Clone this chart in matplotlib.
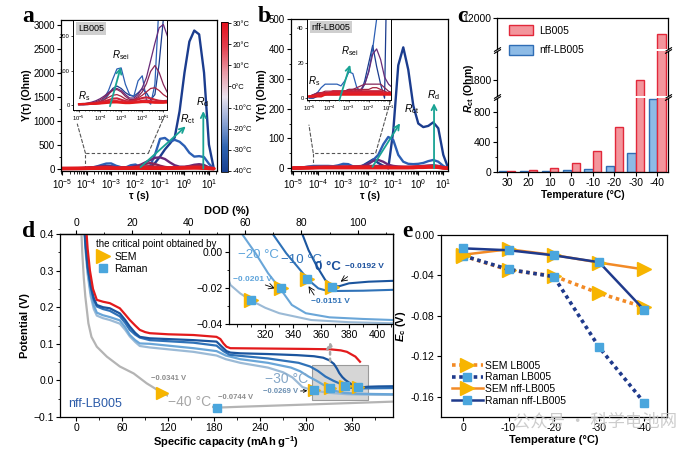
import matplotlib
matplotlib.use("Agg")
import matplotlib.pyplot as plt
import numpy as np
from matplotlib.cm import ScalarMappable
from matplotlib.colors import LinearSegmentedColormap, Normalize
from matplotlib.lines import Line2D
from matplotlib.patches import ConnectionPatch, Patch, Rectangle
from matplotlib.ticker import FuncFormatter, LogLocator, MultipleLocator, NullFormatter

plt.rcParams["font.family"] = ["Liberation Sans", "DejaVu Sans"]
plt.rcParams["mathtext.fontset"] = "custom"
plt.rcParams["mathtext.rm"] = "Liberation Sans"
plt.rcParams["mathtext.it"] = "Liberation Sans:italic"
plt.rcParams["mathtext.bf"] = "Liberation Sans:bold"
plt.rcParams["mathtext.bfit"] = "Liberation Sans:italic:bold"
plt.rcParams["axes.linewidth"] = 0.9

W, H = 700, 449

# ---------------- data: DRT (panels a, b) ----------------
LOG_TAU = [-5.0, -4.8, -4.6, -4.4, -4.2, -4.0, -3.8, -3.6, -3.4, -3.2,
           -3.0, -2.8, -2.6, -2.4, -2.2, -2.0, -1.8, -1.6, -1.4, -1.2,
           -1.0, -0.8, -0.6, -0.4, -0.2, 0.0, 0.2, 0.4, 0.6, 0.8, 1.0, 1.2]
DRT_TEMPS = [30, 20, 10, 0, -10, -20, -30, -40]
DRT_COLORS = ["#e41a1c", "#dc1f2e", "#c92238", "#a62440",
              "#862659", "#682a78", "#2c5fb4", "#1b3c8e"]

LB005_30 = [2, 2, 2, 3, 3, 4, 5, 6, 7, 7, 6, 5, 5, 6, 7, 8, 8, 7, 6, 6,
            6, 7, 8, 9, 10, 11, 12, 13, 12, 8, 3, 0]
LB005_20 = [2, 2, 3, 3, 4, 5, 7, 9, 11, 11, 9, 7, 7, 8, 10, 12, 13, 11, 9, 8,
            8, 9, 10, 12, 14, 16, 18, 20, 18, 12, 4, 0]
LB005_10 = [2, 3, 3, 4, 5, 7, 10, 14, 18, 19, 15, 11, 10, 12, 16, 20, 22, 19, 15, 12,
            11, 12, 14, 17, 20, 24, 28, 30, 27, 18, 6, 0]
LB005_0 = [2, 3, 4, 5, 7, 10, 15, 22, 28, 30, 25, 17, 13, 14, 20, 28, 38, 48, 50, 42,
           30, 22, 18, 18, 20, 25, 32, 40, 42, 30, 10, 0]
LB005_M10 = [2, 3, 4, 6, 9, 14, 22, 32, 42, 45, 38, 25, 16, 16, 24, 38, 62, 98, 115, 95,
             60, 35, 22, 18, 20, 28, 42, 60, 70, 55, 18, 0]
LB005_M20 = [2, 3, 5, 8, 12, 18, 26, 36, 45, 48, 42, 30, 20, 20, 30, 50, 80, 130, 180, 225,
             235, 200, 130, 70, 40, 38, 55, 80, 92, 75, 25, 0]
LB005_M30 = [1, 2, 3, 4, 5, 8, 20, 42, 75, 105, 108, 60, 30, 25, 70, 85, 15, 2, 60, 300,
             620, 640, 560, 600, 560, 470, 330, 250, 260, 240, 100, 0]
LB005_M40 = [0, 0, 1, 2, 4, 8, 15, 30, 48, 55, 48, 36, 28, 25, 35, 47, 35, 15, 30, 120,
             250, 400, 520, 650, 1200, 2000, 2650, 2880, 2800, 2000, 500, 0]

NFF_30 = [1, 1, 1, 1, 2, 2, 2, 2, 2, 2, 2, 2, 2, 2, 2, 2, 2, 2, 2, 2,
          2, 2, 2, 2, 2, 3, 3, 4, 4, 3, 1, 0]
NFF_20 = [1, 1, 2, 2, 2, 3, 3, 3, 3, 3, 3, 3, 3, 3, 3, 3, 3, 3, 3, 3,
          3, 3, 3, 3, 3, 4, 4, 5, 5, 4, 2, 0]
NFF_10 = [1, 1, 2, 3, 3, 3, 4, 4, 4, 4, 4, 4, 4, 4, 4, 4, 4, 4, 4, 3,
          3, 3, 3, 3, 4, 4, 5, 6, 6, 5, 2, 0]
NFF_0 = [1, 2, 2, 3, 4, 4, 4, 4, 4, 4, 5, 5, 5, 5, 5, 5, 6, 6, 5, 4,
         3, 3, 3, 3, 4, 5, 6, 7, 7, 6, 2, 0]
NFF_M10 = [1, 2, 3, 3, 3, 3, 3, 3, 3, 4, 4, 5, 6, 7, 8, 8, 8, 8, 8, 6,
           4, 3, 3, 3, 4, 5, 7, 8, 9, 7, 3, 0]
NFF_M20 = [1, 2, 3, 3, 3, 3, 3, 3, 3, 4, 5, 5, 4, 5, 8, 15, 25, 28, 22, 12,
           8, 6, 5, 5, 5, 6, 8, 9, 10, 8, 3, 0]
NFF_M30 = [0, 1, 3, 6, 8, 8, 8, 8, 7, 10, 15, 14, 6, 4, 8, 15, 28, 45, 80, 105,
           95, 45, 22, 15, 14, 15, 18, 24, 28, 22, 8, 0]
NFF_M40 = [0, 0, 1, 2, 2, 2, 2, 2, 3, 4, 5, 4, 3, 3, 10, 20, 30, 18, 8, 0,
           125, 345, 405, 330, 210, 150, 138, 142, 154, 134, 45, 0]

# ---------------- data: R_ct bars (panel c) ----------------
RCT_TEMPS = ["30", "20", "10", "0", "-10", "-20", "-30", "-40"]
RCT_LB005 = [10, 22, 44, 112, 282, 600, 1790, 11000]
RCT_NFF = [6, 7, 7, 20, 38, 80, 255, 965]

# ---------------- data: discharge curves (panel d) ----------------
RED_CAP = [12, 15, 18, 22, 27, 35, 44, 57, 64, 70, 77, 83, 90, 96, 120, 153, 183, 188,
           192, 196, 201, 250, 300, 331, 345, 353, 358, 364, 370]
RED_POT = [0.45, 0.36, 0.30, 0.25, 0.22, 0.215, 0.211, 0.197, 0.18, 0.165, 0.15, 0.138,
           0.132, 0.129, 0.126, 0.124, 0.119, 0.113, 0.101, 0.092, 0.088, 0.087, 0.086,
           0.085, 0.082, 0.078, 0.072, 0.065, 0.051]
C0_CAP = [10, 12, 15, 19, 23, 27, 35, 44, 57, 64, 70, 77, 83, 96, 153, 183, 190, 196,
          201, 214, 250, 288, 310, 322, 330, 336, 340, 343, 347, 351, 357, 363, 368,
          373, 380, 394, 412]
C0_POT = [0.45, 0.38, 0.31, 0.26, 0.225, 0.206, 0.2, 0.197, 0.183, 0.165, 0.147, 0.13,
          0.119, 0.115, 0.110, 0.106, 0.092, 0.08, 0.076, 0.074, 0.072, 0.069, 0.066,
          0.062, 0.055, 0.045, 0.032, 0.02, 0.009, 0.001, -0.008, -0.0156, -0.019,
          -0.019, -0.0174, -0.0165, -0.016]
CM10_CAP = [10, 12, 15, 19, 23, 27, 35, 44, 57, 64, 70, 77, 83, 96, 153, 183, 192, 200,
            214, 250, 290, 305, 315, 325, 335, 343, 351, 358, 365, 390, 412]
CM10_POT = [0.45, 0.38, 0.31, 0.255, 0.22, 0.202, 0.195, 0.19, 0.175, 0.157, 0.138,
            0.125, 0.117, 0.11, 0.103, 0.095, 0.08, 0.07, 0.067, 0.06, 0.048, 0.038,
            0.026, 0.0104, -0.0007, -0.0081, -0.0156, -0.0202, -0.0217, -0.0215, -0.021]
CM20_CAP = [10, 12, 15, 19, 23, 27, 35, 44, 57, 64, 70, 77, 83, 96, 153, 183, 195, 214,
            250, 280, 292, 303, 313, 322, 331, 339, 349, 366, 390, 412]
CM20_POT = [0.45, 0.37, 0.3, 0.24, 0.205, 0.185, 0.178, 0.173, 0.164, 0.145, 0.124,
            0.11, 0.101, 0.1, 0.088, 0.08, 0.068, 0.058, 0.048, 0.035, 0.025, 0.0104,
            -0.0007, -0.0118, -0.0207, -0.0294, -0.034, -0.0363, -0.0372, -0.0378]
CM30_CAP = [10, 12, 15, 19, 23, 27, 35, 44, 57, 64, 70, 77, 83, 96, 153, 183, 195, 214,
            250, 270, 282, 290, 295, 302, 310, 320, 330, 353, 380, 412]
CM30_POT = [0.45, 0.36, 0.29, 0.23, 0.195, 0.177, 0.17, 0.165, 0.155, 0.138, 0.12,
            0.105, 0.094, 0.09, 0.078, 0.068, 0.058, 0.048, 0.035, 0.022, 0.008, -0.008,
            -0.0183, -0.023, -0.027, -0.031, -0.034, -0.0378, -0.039, -0.0396]
CM40_CAP = [6, 8, 10, 12, 16, 20, 27, 40, 57, 75, 92, 112, 127, 150, 183, 214, 300, 413]
CM40_POT = [0.45, 0.35, 0.28, 0.229, 0.156, 0.119, 0.092, 0.065, 0.038, 0.019, -0.008,
            -0.034, -0.049, -0.063, -0.0744, -0.072, -0.066, -0.058]

SEM_CAP = [368, 350, 331, 310, 112]
SEM_POT = [-0.0192, -0.0151, -0.0201, -0.0269, -0.0341]
RAMAN_CAP = [368, 350, 331, 310, 183]
RAMAN_POT = [-0.0192, -0.0151, -0.0201, -0.0269, -0.0744]

# ---------------- data: critical potential (panel e) ----------------
EC_TEMPS = [0, -10, -20, -30, -40]
EC_TICKLABELS = ["0", "-10", "-20", "-30", "-40"]
EC_SEM_LB005 = [-0.0207, -0.0346, -0.0405, -0.0576, -0.0714]
EC_RAMAN_LB005 = [-0.0205, -0.0340, -0.0412, -0.111, -0.166]
EC_SEM_NFF = [-0.0195, -0.0141, -0.0198, -0.0273, -0.0341]
EC_RAMAN_NFF = [-0.0132, -0.0151, -0.0201, -0.0269, -0.0744]

TEAL = "#19a394"
YELLOW = "#f7b500"
SQ_BLUE = "#4aa6dd"
ORANGE = "#f28a26"
NAVY = "#1f3a8c"

fig = plt.figure(figsize=(W / 100, H / 100), dpi=100)


def px_axes(left, top, right, bottom):
    return fig.add_axes([left / W, 1 - bottom / H, (right - left) / W, (bottom - top) / H])


def style_ticks(ax, size=7):
    ax.tick_params(labelsize=size, width=0.8, length=3, pad=1.5)
    ax.tick_params(which="minor", width=0.6, length=1.8)


def draw_drt(ax, ins, curves, ylim, inset_ylim, xlim_main, xlim_ins):
    tau = 10 ** np.array(LOG_TAU)
    order = list(range(len(curves)))[::-1]  # cold first, red on top
    for i in order:
        lw = 2.4 if DRT_TEMPS[i] > 0 else 1.7
        ax.plot(tau, curves[i], color=DRT_COLORS[i], lw=lw, solid_capstyle="round")
        ins.plot(tau, curves[i], color=DRT_COLORS[i], lw=1.5 if DRT_TEMPS[i] > 0 else 0.9)
    ax.set_xscale("log")
    ax.set_xlim(*xlim_main)
    ax.set_ylim(*ylim)
    ax.xaxis.set_major_locator(LogLocator(base=10, numticks=12))
    ax.xaxis.set_minor_locator(LogLocator(base=10, subs=np.arange(2, 10), numticks=12))
    ax.xaxis.set_minor_formatter(NullFormatter())
    ax.set_xlabel("τ (s)", fontsize=7.5, fontweight="bold", labelpad=0)
    ax.set_ylabel("Υ(τ) (Ohm)", fontsize=7.5, fontweight="bold", labelpad=1)
    style_ticks(ax)

    ins.set_xscale("log")
    ins.set_xlim(*xlim_ins)
    ins.set_ylim(*inset_ylim)
    ins.xaxis.set_major_locator(LogLocator(base=10, numticks=12))
    ins.xaxis.set_minor_locator(LogLocator(base=10, subs=np.arange(2, 10), numticks=12))
    ins.xaxis.set_minor_formatter(NullFormatter())
    ins.tick_params(labelsize=4.2, width=0.5, length=1.5, pad=1)
    ins.tick_params(which="minor", width=0.4, length=1)
    for s in ins.spines.values():
        s.set_linewidth(0.7)


def dashed_link(ax, ins, x0, x1, top, ins_left, ins_right):
    ax.plot([x0, x0, x1], [0, top, top], ls=(0, (3, 2)), color="#555555", lw=0.8, zorder=1)
    for (x, xy_ins) in ((x0, ins_left), (x1, ins_right)):
        con = ConnectionPatch(xyA=(x, top), coordsA=ax.transData, xyB=xy_ins,
                              coordsB=ins.transAxes, ls=(0, (3, 2)), color="#555555", lw=0.8)
        fig.add_artist(con)


def teal_arrow(ax, start, end):
    ax.annotate("", xy=end, xytext=start,
                arrowprops=dict(arrowstyle="->", color=TEAL, lw=1.3, mutation_scale=9,
                                shrinkA=0, shrinkB=0), zorder=6)


# ---------------- panel a ----------------
ax_a = px_axes(61, 20, 217, 171)
ins_a = px_axes(73.3, 20, 166.7, 110)
lb_curves = [LB005_30, LB005_20, LB005_10, LB005_0, LB005_M10, LB005_M20, LB005_M30, LB005_M40]
draw_drt(ax_a, ins_a, lb_curves, (-50, 3100), (-15, 248),
         (10 ** -5.05, 10 ** 1.33), (10 ** -5.27, 10 ** -0.84))
ax_a.yaxis.set_major_locator(MultipleLocator(500))
ax_a.yaxis.set_minor_locator(MultipleLocator(250))
ins_a.set_yticks([0, 100, 200])
dashed_link(ax_a, ins_a, 10 ** -4.05, 10 ** -1.48, 320, (0.043, -0.156), (0.98, -0.056))
teal_arrow(ax_a, (10 ** -1.8, 30), (10 ** 0.05, 880))
teal_arrow(ax_a, (10 ** 0.77, 0), (10 ** 0.77, 1200))
ax_a.text(10 ** 0.12, 1030, r"$R_{\rm ct}$", fontsize=7.5, ha="center", va="center")
ax_a.text(10 ** 0.74, 1390, r"$R_{\rm d}$", fontsize=7.5, ha="center", va="center")
teal_arrow(ins_a, (10 ** -3.53, -4), (10 ** -3.02, 110))
ins_a.text(10 ** -3.0, 145, r"$R_{\rm sei}$", fontsize=7, ha="center", va="center")
ins_a.text(10 ** -4.75, 25, r"$R_{\rm s}$", fontsize=7, ha="center", va="center")
ins_a.text(0.05, 0.955, "LB005", transform=ins_a.transAxes, fontsize=6.5, va="top",
           bbox=dict(facecolor="#cfcfcf", edgecolor="none", boxstyle="square,pad=0.2"))

# colourbar shared by a and b
cax = px_axes(221, 22, 228, 172)
cmap = LinearSegmentedColormap.from_list(
    "temp", ["#173f8f", "#2f64b0", "#8fa6d4", "#e9e2ee", "#e99aa6", "#e2404f", "#e3101c"])
sm = ScalarMappable(norm=Normalize(-40.5, 30.5), cmap=cmap)
cb = fig.colorbar(sm, cax=cax, ticks=DRT_TEMPS)
cb.ax.set_yticklabels([f"{t}°C" for t in DRT_TEMPS])
cb.outline.set_linewidth(0.6)
cb.ax.tick_params(labelsize=5.5, length=2, width=0.6, pad=1)

# ---------------- panel b ----------------
ax_b = px_axes(290.7, 19, 448.3, 170.7)
ins_b = px_axes(307.3, 19, 390.7, 100)
nff_curves = [NFF_30, NFF_20, NFF_10, NFF_0, NFF_M10, NFF_M20, NFF_M30, NFF_M40]
draw_drt(ax_b, ins_b, nff_curves, (-8, 500), (-1, 45),
         (10 ** -5.1, 10 ** 1.2), (10 ** -5.1, 10 ** -0.89))
ax_b.yaxis.set_major_locator(MultipleLocator(100))
ax_b.yaxis.set_minor_locator(MultipleLocator(50))
ins_b.set_yticks([0, 20, 40])
dashed_link(ax_b, ins_b, 10 ** -4.2, 10 ** -1.7, 52, (0.02, -0.31), (1.0, 0.0))
teal_arrow(ax_b, (10 ** -1.83, 5), (10 ** -0.73, 151))
teal_arrow(ax_b, (10 ** 0.63, 0), (10 ** 0.63, 218))
ax_b.text(10 ** -0.27, 197, r"$R_{\rm ct}$", fontsize=7.5, ha="center", va="center")
ax_b.text(10 ** 0.6, 245, r"$R_{\rm d}$", fontsize=7.5, ha="center", va="center")
teal_arrow(ins_b, (10 ** -3.48, -1), (10 ** -2.94, 19))
ins_b.text(10 ** -2.95, 27, r"$R_{\rm sei}$", fontsize=7, ha="center", va="center")
ins_b.text(10 ** -4.75, 10, r"$R_{\rm s}$", fontsize=7, ha="center", va="center")
ins_b.text(0.05, 0.955, "nff-LB005", transform=ins_b.transAxes, fontsize=6.5, va="top",
           bbox=dict(facecolor="#cfcfcf", edgecolor="none", boxstyle="square,pad=0.2"))

# ---------------- panel c (broken axis) ----------------
c_top = px_axes(497.3, 18, 668, 49)
c_mid = px_axes(497.3, 51, 668, 96)
c_bot = px_axes(497.3, 98, 668, 172)
xc = np.arange(len(RCT_TEMPS))
for axc in (c_top, c_mid, c_bot):
    axc.bar(xc - 0.2, RCT_NFF, width=0.38, color="#8dbbe6", edgecolor="#2f6db5", lw=1.0)
    axc.bar(xc + 0.2, RCT_LB005, width=0.38, color="#f3959c", edgecolor="#e2283a", lw=1.0)
    axc.set_xlim(-0.45, 7.5)
    style_ticks(axc, 7.5)
c_bot.set_ylim(-4, 983)
c_mid.set_ylim(1600, 2150)
c_top.set_ylim(10000, 12000)
c_bot.set_yticks([0, 400, 800])
c_bot.yaxis.set_minor_locator(MultipleLocator(200))
c_mid.set_yticks([1800])
c_top.set_yticks([12000])
c_bot.set_xticks(xc)
c_bot.set_xticklabels(RCT_TEMPS)
c_bot.set_xlabel("Temperature (°C)", fontsize=7.5, fontweight="bold", labelpad=1)
for axc in (c_top, c_mid):
    axc.tick_params(axis="x", which="both", bottom=False, labelbottom=False)
    axc.spines["bottom"].set_visible(False)
for axc in (c_mid, c_bot):
    axc.spines["top"].set_visible(False)
brk = dict(marker=[(-1, -0.6), (1, 0.6)], markersize=5, linestyle="none",
           color="k", mec="k", mew=0.8, clip_on=False)
for axc in (c_top, c_mid):
    axc.plot([0, 1], [0, 0], transform=axc.transAxes, **brk)
for axc in (c_mid, c_bot):
    axc.plot([0, 1], [1, 1], transform=axc.transAxes, **brk)
fig.text(469 / W, 1 - 88 / H, r"$\mathbfit{R}_{\mathbf{ct}}$ (Ohm)", rotation=90,
         fontsize=7.5, fontweight="bold", ha="center", va="center")
fig.legend(handles=[Patch(facecolor="#f3959c", edgecolor="#e2283a", label="LB005"),
                    Patch(facecolor="#8dbbe6", edgecolor="#2f6db5", label="nff-LB005")],
           loc="upper left", bbox_to_anchor=(505 / W, 1 - 21 / H), frameon=False,
           fontsize=7.5, handlelength=2.3, handleheight=1.1, labelspacing=0.85,
           handletextpad=0.6, borderaxespad=0)

# ---------------- panel d ----------------
ax_d = px_axes(60, 234, 393, 417)
D_CURVES = [(CM40_CAP, CM40_POT, "#b4b4b4"), (CM30_CAP, CM30_POT, "#9bbad6"),
            (CM20_CAP, CM20_POT, "#6aa6d8"), (CM10_CAP, CM10_POT, "#2f72b8"),
            (C0_CAP, C0_POT, "#1b559e"), (RED_CAP, RED_POT, "#e31a1c")]
ax_d.add_patch(Rectangle((307, -0.054), 74, 0.096, facecolor="#d6d6d6",
                         edgecolor="#9a9a9a", lw=0.8, zorder=0.5))
for cap, pot, col in D_CURVES:
    ax_d.plot(cap, pot, color=col, lw=1.6, zorder=2)
ax_d.plot(SEM_CAP, SEM_POT, ls="none", marker=">", ms=9, color=YELLOW, zorder=5)
ax_d.plot(RAMAN_CAP, RAMAN_POT, ls="none", marker="s", ms=5.5, color=SQ_BLUE, zorder=6)
ax_d.annotate("", xy=(331, 0.115), xytext=(331, 0.045),
              arrowprops=dict(arrowstyle="->", color="#a8a8a8", lw=1.8, ls=":"))
ax_d.set_xlim(-21, 413)
ax_d.set_ylim(-0.1, 0.4)
ax_d.set_xticks([0, 60, 120, 180, 240, 300, 360])
ax_d.xaxis.set_minor_locator(MultipleLocator(30))
ax_d.yaxis.set_major_locator(MultipleLocator(0.1))
ax_d.yaxis.set_minor_locator(MultipleLocator(0.05))
style_ticks(ax_d, 7.5)
ax_d.set_xlabel("Specific capacity (mAh g$^{\\mathbf{-1}}$)", fontsize=8, fontweight="bold",
                labelpad=1)
ax_d.set_ylabel("Potential (V)", fontsize=8, fontweight="bold", labelpad=2)
sec = ax_d.secondary_xaxis("top", functions=(lambda c: c / 3.67, lambda d: d * 3.67))
sec.set_xticks([0, 20, 40, 60, 80, 100])
sec.xaxis.set_minor_locator(MultipleLocator(10))
sec.tick_params(labelsize=7.5, width=0.8, length=3, pad=1.5)
sec.tick_params(which="minor", width=0.6, length=1.8)
sec.set_xlabel("DOD (%)", fontsize=8, fontweight="bold", labelpad=3)

ax_d.text(120, 0.004, "−0.0341 V", fontsize=5.5, color="#8c8c8c", fontweight="bold",
          ha="center", va="center")
ax_d.text(208, -0.046, "−0.0744 V", fontsize=5.5, color="#8c8c8c", fontweight="bold",
          ha="center", va="center")
ax_d.text(148, -0.059, "−40 °C", fontsize=10, color="#a6a6a6", ha="center", va="center",
          bbox=dict(facecolor="white", edgecolor="none", pad=0.3), zorder=3)
ax_d.text(274, 0.003, "−30 °C", fontsize=10, color="#86a8c8", ha="center", va="center",
          zorder=3)
ax_d.annotate("−0.0269 V", xy=(305, -0.028), xytext=(266, -0.031), fontsize=5.5,
              color="#6b8fb2", fontweight="bold", ha="center", va="center",
              arrowprops=dict(arrowstyle="->", color="k", lw=0.6, shrinkA=14, shrinkB=2))
ax_d.text(25, -0.064, "nff-LB005", fontsize=9, color="#2a5aa8", ha="center", va="center")
leg_d = ax_d.legend(handles=[Line2D([], [], ls="none", marker=">", ms=10, color=YELLOW,
                                    label="SEM"),
                             Line2D([], [], ls="none", marker="s", ms=5.5, color=SQ_BLUE,
                                    label="Raman")],
                    title="the critical point obtained by", title_fontsize=7, fontsize=7.5,
                    loc="upper left", bbox_to_anchor=(0.085, 1.01), frameon=False,
                    alignment="left", handletextpad=0.3, labelspacing=0.2,
                    borderpad=0.2, handlelength=1.5)

ins_d = px_axes(229, 234, 393, 324)
for cap, pot, col in D_CURVES[1:5]:
    ins_d.plot(cap, pot, color=col, lw=1.5)
ins_d.plot(SEM_CAP, SEM_POT, ls="none", marker=">", ms=10, color=YELLOW, zorder=5)
ins_d.plot(RAMAN_CAP, RAMAN_POT, ls="none", marker="s", ms=6, color=SQ_BLUE, zorder=6)
ins_d.set_xlim(294, 411.5)
ins_d.set_ylim(-0.04, 0.01)
ins_d.set_xticks([320, 340, 360, 380, 400])
ins_d.xaxis.set_minor_locator(MultipleLocator(10))
ins_d.set_yticks([0.0, -0.02, -0.04])
ins_d.yaxis.set_minor_locator(MultipleLocator(0.01))
ins_d.yaxis.set_major_formatter(FuncFormatter(lambda v, p: f"{v:.2f}".replace("-", "−")))
style_ticks(ins_d, 7.5)
ins_d.text(315, -0.0017, "−20 °C", fontsize=9.5, color="#5ea4db", ha="center", va="center")
ins_d.text(346, -0.0044, "−10 °C", fontsize=9.5, color="#2f72b8", ha="center", va="center")
ins_d.text(365, -0.0081, "0 °C", fontsize=9.5, color="#1a4f9c", ha="center", va="center",
           fontweight="bold")
arrow_kw = dict(arrowstyle="->", color="k", lw=0.6, shrinkA=0, shrinkB=0)
ins_d.annotate("−0.0192 V", xy=(374, -0.0165), xytext=(391, -0.0083), fontsize=6,
               color="#1a4f9c", fontweight="bold", ha="center", va="center")
ins_d.annotate("", xy=(374, -0.0165), xytext=(379, -0.0137), arrowprops=arrow_kw)
ins_d.annotate("−0.0201 V", xy=(327, -0.0202), xytext=(311, -0.0151), fontsize=6,
               color="#5ea4db", fontweight="bold", ha="center", va="center")
ins_d.annotate("", xy=(327, -0.0202), xytext=(320, -0.0183), arrowprops=arrow_kw)
ins_d.annotate("−0.0151 V", xy=(351, -0.019), xytext=(367, -0.0276), fontsize=6,
               color="#2f72b8", fontweight="bold", ha="center", va="center")
ins_d.annotate("", xy=(351, -0.019), xytext=(355, -0.0239), arrowprops=arrow_kw)

# ---------------- panel e ----------------
ax_e = px_axes(440.7, 235, 667, 417)
dot = (0, (1, 1))
ax_e.plot(EC_TEMPS, EC_SEM_LB005, ls=dot, color=ORANGE, lw=2.6, marker=">", ms=10,
          mfc=YELLOW, mec=YELLOW, label="SEM LB005")
ax_e.plot(EC_TEMPS, EC_RAMAN_LB005, ls=dot, color=NAVY, lw=2.6, marker="s", ms=6,
          mfc=SQ_BLUE, mec=SQ_BLUE, label="Raman LB005")
ax_e.plot(EC_TEMPS, EC_SEM_NFF, ls="-", color=ORANGE, lw=1.8, marker=">", ms=10,
          mfc=YELLOW, mec=YELLOW, label="SEM nff-LB005")
ax_e.plot(EC_TEMPS, EC_RAMAN_NFF, ls="-", color=NAVY, lw=1.8, marker="s", ms=6,
          mfc=SQ_BLUE, mec=SQ_BLUE, label="Raman nff-LB005")
ax_e.set_xlim(5, -45)
ax_e.set_ylim(-0.18, 0)
ax_e.set_xticks(EC_TEMPS)
ax_e.set_xticklabels(EC_TICKLABELS)
ax_e.set_yticks([0, -0.04, -0.08, -0.12, -0.16])
ax_e.yaxis.set_major_formatter(FuncFormatter(lambda v, p: f"{v:.2f}" if v < 0 else "0.00"))
style_ticks(ax_e, 7.5)
ax_e.set_xlabel("Temperature (°C)", fontsize=8, fontweight="bold", labelpad=1)
ax_e.set_ylabel(r"$\mathbfit{E}_{\mathbf{c}}$ (V)", fontsize=8, fontweight="bold", labelpad=2)
ax_e.legend(loc="lower left", bbox_to_anchor=(0.03, 0.04), frameon=False, fontsize=7.5,
            handlelength=3.0, labelspacing=0.15, handletextpad=0.2, borderaxespad=0)

# ---------------- panel letters + watermark ----------------
for letter, x, y in (("a", 22, 22), ("b", 258, 22), ("c", 457, 22), ("d", 22, 237),
                     ("e", 402, 237)):
    fig.text(x / W, 1 - y / H, letter, fontsize=17, fontweight="bold",
             family="Liberation Serif", ha="left", va="baseline")
fig.text(595 / W, 1 - 426 / H, "公众号 · 科学电池网", family=["Noto Sans CJK SC"],
         fontsize=12.5, color="#c4c4c4", ha="center", va="baseline", alpha=0.85)

fig.savefig("out.png", dpi=100)
